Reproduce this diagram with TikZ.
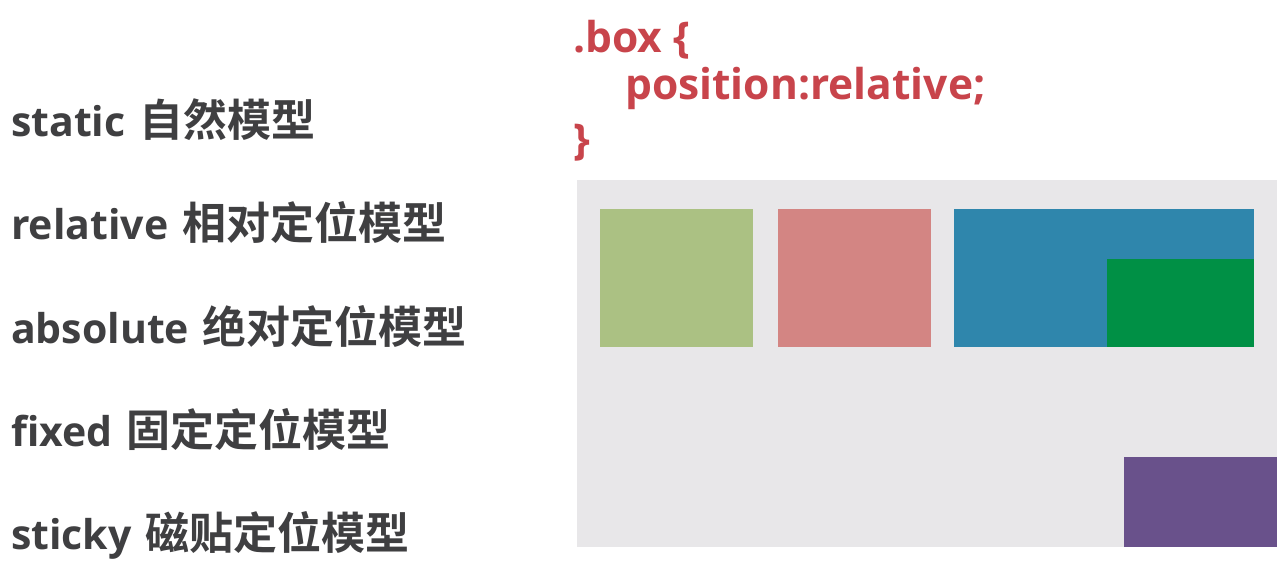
\documentclass[tikz,border=0pt]{standalone}
\usepackage{fontspec}
\setmainfont{Open Sans}[BoldFont={Open Sans Bold}]
\newfontfamily\cjk{Noto Sans CJK SC}[BoldFont={Noto Sans CJK SC Bold}]
\definecolor{txt}{HTML}{3F3F41}
\definecolor{code}{HTML}{C8444B}
\definecolor{bg}{HTML}{E8E7E9}
\definecolor{cgreen}{HTML}{ABC183}
\definecolor{cpink}{HTML}{D38583}
\definecolor{cblue}{HTML}{2F86AC}
\definecolor{cgreenb}{HTML}{009045}
\definecolor{cpurple}{HTML}{69518B}
\newcommand{\zh}[1]{\hspace{3pt}{\fontsize{44}{52}\selectfont\cjk\bfseries #1}}
\begin{document}
\begin{tikzpicture}[x=1pt,y=-1pt,
  lbl/.style={anchor=base west,inner sep=0pt,text=txt,font=\fontsize{41}{48}\selectfont\bfseries},
  codetxt/.style={anchor=base west,inner sep=0pt,text=code,font=\fontsize{42.5}{50}\selectfont\bfseries}]
\useasboundingbox[fill=white] (0,0) rectangle (1282,567);
% labels
\node[lbl] (l1) at (11,136) {static \zh{自然模型}};
\node[lbl] (l2) at (11,239) {relative \zh{相对定位模型}};
\node[lbl] (l3) at (11,343) {absolute \zh{绝对定位模型}};
\node[lbl] (l4) at (11,446) {fixed \zh{固定定位模型}};
\node[lbl] (l5) at (11,549) {sticky \zh{磁贴定位模型}};
% code
\node[codetxt] (c1) at (573,53) {.box \{};
\node[codetxt] (c2) at (625,100) {position:relative;};
\node[codetxt] (c3) at (573,154) {\}};
% container and boxes
\fill[bg] (577,180) rectangle (1277,547);
\fill[cgreen] (600,209) rectangle (753,347);
\fill[cpink] (778,209) rectangle (931,347);
\fill[cblue] (954,209) rectangle (1254,347);
\fill[cgreenb] (1107,259) rectangle (1254,347);
\fill[cpurple] (1124,457) rectangle (1277,547);
\end{tikzpicture}
\end{document}
